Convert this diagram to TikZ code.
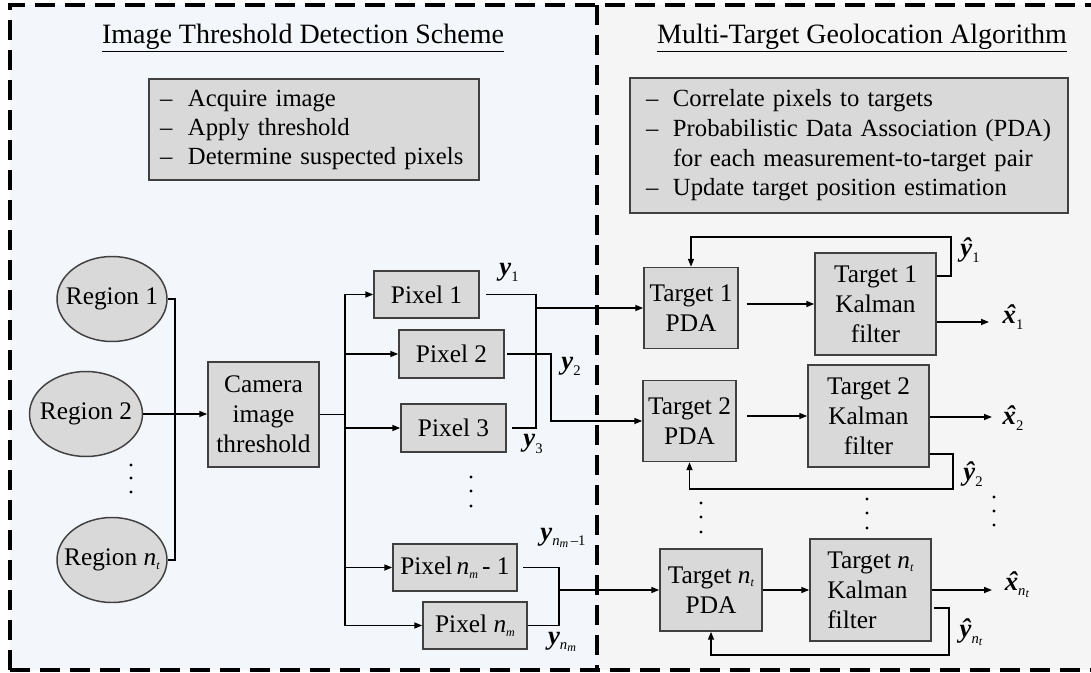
\documentclass[tikz,border=0pt]{standalone}
\usepackage{fontspec}
\setmainfont{Liberation Serif}
\usetikzlibrary{arrows.meta,shapes.geometric}
\definecolor{bgL}{HTML}{F3F6FA}
\definecolor{bgR}{HTML}{F5F5F5}
\definecolor{boxfill}{HTML}{D9D9D9}
\definecolor{boxline}{HTML}{404040}
\newcommand{\vy}{\textbf{\textit{y}}}
\newcommand{\vyh}{\textbf{\textit{ŷ}}}
\newcommand{\vxh}{{\ooalign{\textbf{\textit{x}}\cr\hidewidth\kern0.12em\textbf{\textit{ˆ}}\hidewidth\cr}}}
\newcommand{\sbs}[1]{\raisebox{-0.5ex}{\fontsize{11}{11}\selectfont #1}}
\newcommand{\ssbs}[1]{\raisebox{-0.45ex}{\fontsize{11}{11}\selectfont #1}}
\newcommand{\tsbs}[1]{\raisebox{-0.3ex}{\fontsize{9}{9}\selectfont #1}}
\begin{document}
\begin{tikzpicture}[x=0.75pt,y=-0.75pt,
 blk/.style={draw=boxline, fill=boxfill, line width=1.1pt, inner sep=0pt, align=center, font=\fontsize{19}{22.5}\selectfont},
 reg/.style={ellipse, draw=boxline, fill=boxfill, line width=1.1pt, inner sep=-12pt, font=\fontsize{19}{22}\selectfont},
 wire/.style={line width=1.2pt},
 arr/.style={wire, -{Triangle[length=6pt,width=4.5pt]}},
 lbl/.style={inner sep=0pt, font=\fontsize{20}{20}\selectfont},
 ttl/.style={inner sep=0pt, font=\fontsize{21}{24}\selectfont},
 border/.style={line width=3pt, dash pattern=on 15pt off 7.5pt}]
\useasboundingbox (0,0) rectangle (1091,673);
% panels
\fill[bgL] (10,5) rectangle (597,670);
\fill[bgR] (597,5) rectangle (1091,670);
\draw[border] (10,670) -- (10,5) -- (1095,5);
\draw[border] (10,670) -- (1095,670);
\draw[border] (597,5) -- (597,670);
% titles
\node[ttl] (tl) at (303,38) {\underline{Image Threshold Detection Scheme}};
\node[ttl] (tr) at (862,38) {\underline{Multi-Target Geolocation Algorithm}};
% bullet boxes
\node[blk, align=left, text width=308*0.75pt, inner xsep=11*0.75pt, minimum height=101*0.75pt, font=\fontsize{18.5}{21.75}\selectfont] (bl) at (314,129.5)
 {\makebox[21pt][l]{–}Acquire image\\ \makebox[21pt][l]{–}Apply threshold\\ \makebox[21pt][l]{–}Determine suspected pixels};
\node[blk, align=left, text width=406*0.75pt, inner xsep=16*0.75pt, minimum height=135*0.75pt, font=\fontsize{18.5}{22.2}\selectfont] (br) at (849,145.5)
 {\makebox[20.25pt][l]{–}Correlate pixels to targets\\ \makebox[20.25pt][l]{–}Probabilistic Data Association (PDA)\\ \makebox[20.25pt][l]{}for each measurement-to-target pair\\ \makebox[20.25pt][l]{–}Update target position estimation};
% regions
\node[reg, minimum width=110*0.75pt, minimum height=85*0.75pt] (r1) at (112,299) {Region 1};
\node[reg, minimum width=113*0.75pt, minimum height=85*0.75pt] (r2) at (86,414) {Region 2};
\node[reg, minimum width=110*0.75pt, minimum height=85*0.75pt] (rn) at (112,560) {Region \textit{n}\tsbs{\textit{t}}};
\foreach \yy in {465,478,492} \fill (131,\yy) circle (1.2pt);
% camera
\node[blk, minimum width=111*0.75pt, minimum height=105*0.75pt] (cam) at (263.5,414.5) {Camera\\image\\threshold};
% pixels
\node[blk, minimum width=105*0.75pt, minimum height=47*0.75pt] (p1) at (426.5,294.5) {Pixel 1};
\node[blk, minimum width=105*0.75pt, minimum height=48*0.75pt] (p2) at (451.5,354) {Pixel 2};
\node[blk, minimum width=105*0.75pt, minimum height=48*0.75pt] (p3) at (453.5,428) {Pixel 3};
\node[blk, minimum width=124*0.75pt, minimum height=47*0.75pt] (pm1) at (455,567.5) {Pixel\,\textit{n}\tsbs{\textit{m}}\,- 1};
\node[blk, minimum width=104*0.75pt, minimum height=47*0.75pt] (pn) at (475,625.5) {Pixel \textit{n}\tsbs{\textit{m}}};
\foreach \yy in {477,491,506} \fill (471,\yy) circle (1.2pt);
% targets
\node[blk, minimum width=94*0.75pt, minimum height=81*0.75pt] (t1p) at (691,308) {Target 1\\PDA};
\node[blk, minimum width=121*0.75pt, minimum height=102*0.75pt] (t1k) at (875.5,304) {Target 1\\Kalman\\filter};
\node[blk, minimum width=93*0.75pt, minimum height=81*0.75pt] (t2p) at (689.5,421) {Target 2\\PDA};
\node[blk, minimum width=121*0.75pt, minimum height=102*0.75pt] (t2k) at (868.5,416) {Target 2\\Kalman\\filter};
\node[blk, minimum width=102*0.75pt, minimum height=82*0.75pt] (tnp) at (711,590) {Target \textit{n}\tsbs{\textit{t}}\\PDA};
\node[blk, align=left, minimum width=121*0.75pt, minimum height=102*0.75pt] (tnk) at (870.5,590) {Target \textit{n}\tsbs{\textit{t}}\\Kalman\\filter};
\foreach \yy in {503,517,532} \fill (701,\yy) circle (1.2pt);
\foreach \yy in {499,513,528} \fill (867,\yy) circle (1.2pt);
\foreach \yy in {497,511,525} \fill (994,\yy) circle (1.2pt);
% coordinates
\coordinate (rbus) at (175,430);
\coordinate (pbus) at (345,414);
\coordinate (j1) at (536,308);
\coordinate (j2) at (551,390);
\coordinate (jm) at (559,590);
\coordinate (f1) at (951,276);
\coordinate (f1t) at (951,237);
\coordinate (f2) at (953,454);
\coordinate (f2b) at (953,489);
\coordinate (fn) at (949,608);
\coordinate (fnb) at (949,655);
\coordinate (xo1) at (989,322);
\coordinate (xo2) at (992,417);
\coordinate (xon) at (992,590);
% region connectors
\draw[wire] (r1.east) -| (rbus) |- (rn.east);
\draw[arr] (r2.east) -- (r2.east -| cam.west);
% camera to pixels
\draw[wire] (cam.east) -- (cam.east -| pbus);
\draw[wire] (p1.west -| pbus) -- (pn.west -| pbus);
\foreach \p in {p1,p2,p3,pm1,pn} \draw[arr] (\p.west -| pbus) -- (\p.west);
% pixel outputs
\draw[wire, shorten <=5pt, shorten >=4pt] (p1.east) -| (j1) |- (p3.east);
\draw[arr] (j1) -- (t1p.west);
\draw[arr, shorten <=2pt] (p2.east) -| (j2) |- (t2p.west);
\draw[wire, shorten <=4pt] (pm1.east) -| (jm) |- (pn.east);
\draw[arr] (jm) -- (tnp.west);
% pixel labels
\node[lbl] (ly1) at (509,272) {\vy\sbs{1}};
\node[lbl] (ly2) at (571,366) {\vy\sbs{2}};
\node[lbl] (ly3) at (533,444) {\vy\sbs{3}};
\node[lbl] (lym1) at (563,538) {\vy\ssbs{\textit{n}\tsbs{\textit{m}}\,–1}};
\node[lbl] (lym) at (562,642) {\vy\ssbs{\textit{n}\tsbs{\textit{m}}}};
% target connectors
\draw[arr, shorten <=6pt] (t1p.east |- t1k.west) -- (t1k.west);
\draw[arr, shorten <=8pt] (t2p.east |- t2k.west) -- (t2k.west);
\draw[arr] (tnp.east) -- (tnk.west);
\draw[arr] (xo1 -| t1k.east) -- (xo1);
\draw[arr] (xo2 -| t2k.east) -- (xo2);
\draw[arr] (xon -| tnk.east) -- (xon);
\draw[arr] (t1k.east |- f1) -- (f1) -- (f1t) -| (t1p.north);
\draw[arr] (t2k.east |- f2) -- (f2) -- (f2b) -| (t2p.south);
\draw[arr, shorten <=2pt] (tnk.east |- fn) -- (fn) -- (fnb) -| (tnp.south);
% target labels
\node[lbl] (lyh1) at (970,250) {\vyh\sbs{1}};
\node[lbl] (lyh2) at (973,474) {\vyh\sbs{2}};
\node[lbl] (lyhn) at (971,632) {\vyh\ssbs{\textit{n}\tsbs{\textit{t}}}};
\node[lbl] (lx1) at (1013,320) {\vxh\sbs{1}};
\node[lbl] (lx2) at (1013,421) {\vxh\sbs{2}};
\node[lbl] (lxn) at (1017,588) {\vxh\ssbs{\textit{n}\tsbs{\textit{t}}}};
\end{tikzpicture}
\end{document}
